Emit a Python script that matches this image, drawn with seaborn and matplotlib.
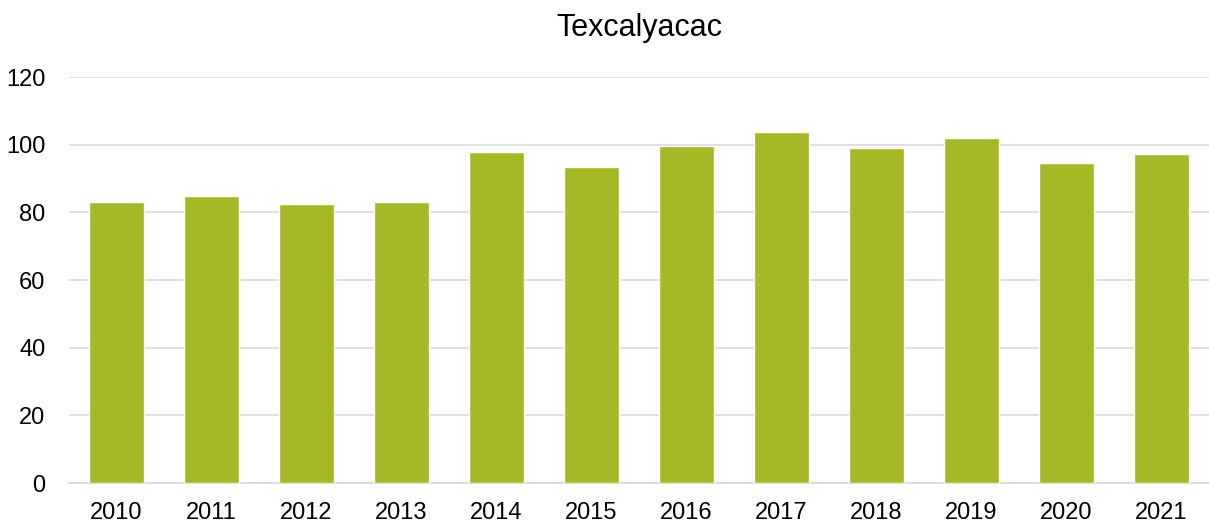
import matplotlib
matplotlib.use('Agg')
import matplotlib.pyplot as plt
import seaborn as sns
import pandas as pd

# Dados do gráfico
anos = ['2010', '2011', '2012', '2013', '2014', '2015',
        '2016', '2017', '2018', '2019', '2020', '2021']
valores = [83.2, 85.0, 82.6, 83.2, 98.0, 93.3,
           99.7, 103.9, 99.1, 102.1, 94.5, 97.4]
titulo = 'Texcalyacac'

df = pd.DataFrame({'ano': anos, 'valor': valores})

sns.set_style('white')
plt.rcParams['font.family'] = ['Liberation Sans', 'DejaVu Sans']

fig = plt.figure(figsize=(12.09, 5.25), dpi=100)
ax = fig.add_axes([69 / 1209, 0.08, 1140 / 1209, 0.773])

sns.barplot(data=df, x='ano', y='valor', color='#A7B827', width=0.57,
            saturation=1, ax=ax, zorder=3)

# Eixos e grade
ax.set_ylim(0, 120)
ax.set_yticks(range(0, 121, 20))
ax.set_xlim(-0.5, len(anos) - 0.5)
ax.grid(axis='y', color='#d9d9d9', linewidth=1.2, zorder=0)
for lado in ['top', 'right', 'left']:
    ax.spines[lado].set_visible(False)
ax.spines['bottom'].set_color('#d9d9d9')
ax.spines['bottom'].set_linewidth(1.2)
ax.set(xlabel='', ylabel='')
ax.tick_params(axis='both', labelsize=17, length=0, colors='black')
ax.tick_params(axis='y', pad=17)
ax.tick_params(axis='x', pad=14)

ax.set_title(titulo, fontsize=22, pad=30, color='black')

fig.savefig('out.png', dpi=100)
